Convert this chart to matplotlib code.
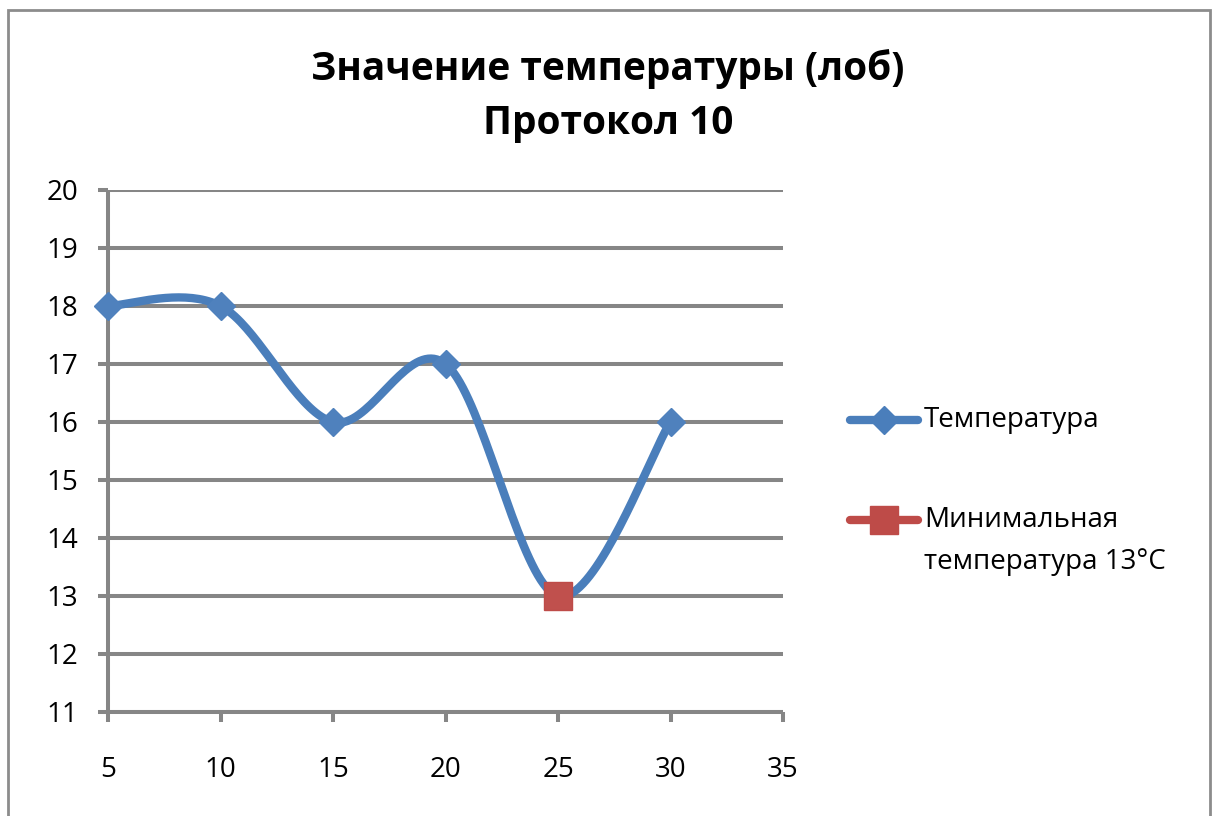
import numpy as np
import matplotlib
matplotlib.use("Agg")
import matplotlib.pyplot as plt
from matplotlib.lines import Line2D
from matplotlib.patches import Rectangle

plt.rcParams['font.family'] = ['Open Sans', 'DejaVu Sans']

# data
x_vals = [5, 10, 15, 20, 25, 30]
temps = [18, 18, 16, 17, 13, 16]
min_x = [25]
min_temp = [13]
title = "Значение температуры (лоб)\nПротокол 10"
label_temp = "Температура"
label_min = ["Минимальная", "температура 13°С"]

blue = '#4A7EBB'
red = '#BE4B48'
grid_col = '#868686'


def excel_smooth(xs, ys, n=40):
    # bezier segments with catmull-rom style control points (like Excel's smoothed line)
    px = np.array(xs, float)
    py = np.array(ys, float)
    ex = np.concatenate([[px[0]], px, [px[-1]]])
    ey = np.concatenate([[py[0]], py, [py[-1]]])
    outx, outy = [], []
    t = np.linspace(0, 1, n)
    for i in range(len(px) - 1):
        p0 = np.array([ex[i + 1], ey[i + 1]])
        p3 = np.array([ex[i + 2], ey[i + 2]])
        c1 = p0 + (p3 - np.array([ex[i], ey[i]])) / 6
        c2 = p3 - (np.array([ex[i + 3], ey[i + 3]]) - p0) / 6
        b = ((1 - t) ** 3)[:, None] * p0 + (3 * t * (1 - t) ** 2)[:, None] * c1 \
            + (3 * t ** 2 * (1 - t))[:, None] * c2 + (t ** 3)[:, None] * p3
        outx.extend(b[:, 0])
        outy.extend(b[:, 1])
    return outx, outy


fig = plt.figure(figsize=(12.16, 8.16), dpi=100)
ax = fig.add_axes([108 / 1216, 1 - 712 / 816, (783 - 108) / 1216, (712 - 190) / 816])

ax.set_xlim(5, 35)
ax.set_ylim(11, 20)
ax.set_xticks(range(5, 36, 5))
ax.set_yticks(range(11, 21))

lw_grid = 2.9
ax.grid(axis='y', color=grid_col, lw=lw_grid, zorder=0)
ax.set_axisbelow(True)
for s in ['top', 'right']:
    ax.spines[s].set_visible(False)
for s in ['left', 'bottom']:
    ax.spines[s].set_color(grid_col)
    ax.spines[s].set_linewidth(lw_grid)
    ax.spines[s].set_capstyle('butt')
ax.tick_params(axis='both', colors=grid_col, width=lw_grid, length=7.5, labelcolor='black', labelsize=20)
ax.tick_params(axis='y', pad=14)
ax.tick_params(axis='x', pad=24)

sx, sy = excel_smooth(x_vals, temps)
ax.plot(sx, sy, color=blue, lw=6, solid_capstyle='round', zorder=3, clip_on=False)
ax.plot(x_vals, temps, ls='none', marker='D', ms=14, color='#4F81BD', mec='#4F81BD', zorder=4, clip_on=False)
ax.plot(min_x, min_temp, ls='none', marker='s', ms=20, color='#C0504D', mec=red, zorder=5, clip_on=False)

fig.suptitle(title, x=0.5, y=0.94, fontsize=28, fontweight='bold', linespacing=1.5)

# legend drawn by hand so the handle lines up with the first label line
def legend_item(y, color, marker, ms, lines):
    fig.add_artist(Line2D([850 / 1216, 918 / 1216], [y, y], color=color, lw=6,
                          solid_capstyle='round', marker=None))
    fig.add_artist(Line2D([884 / 1216], [y], color=color, marker=marker, ms=ms, ls='none'))
    for k, txt in enumerate(lines):
        fig.text(924 / 1216, y - k * 42 / 816, txt, fontsize=20, va='center', ha='left')

legend_item(1 - 420 / 816, blue, 'D', 14, [label_temp])
legend_item(1 - 520 / 816, red, 's', 20, label_min)

fig.add_artist(Rectangle((8 / 1216, -0.1), 1202 / 1216, 1.1 - 10 / 816, transform=fig.transFigure,
                         fill=False, edgecolor='#8c8c8c', lw=2))

fig.savefig('out.png', dpi=100)
